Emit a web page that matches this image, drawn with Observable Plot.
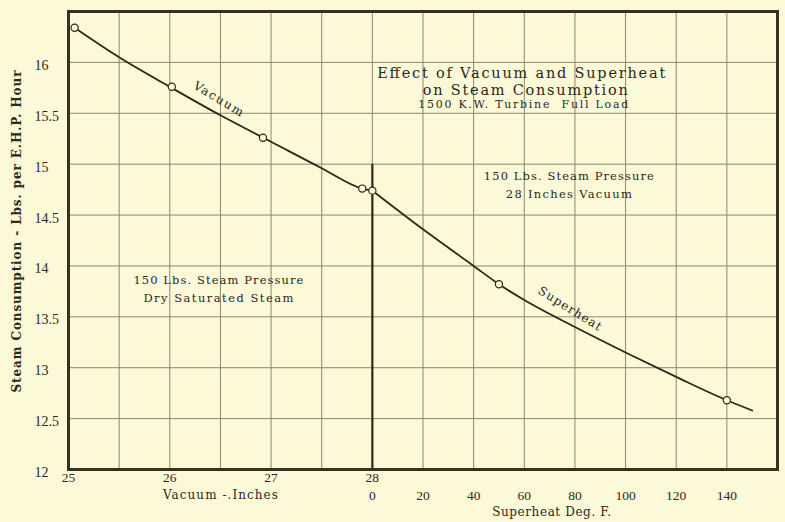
<!DOCTYPE html>
<html>
<head>
<meta charset="utf-8">
<script src="https://cdn.jsdelivr.net/npm/d3@7"></script>
<script src="https://cdn.jsdelivr.net/npm/@observablehq/plot@0.6"></script>
<style>
  html, body { margin: 0; padding: 0; background: #fbf9d8; }
  #chart svg { display: block; }
</style>
</head>
<body>
<div id="chart"></div>
<script>
// ---- Data ----
// Vacuum curve (inches of vacuum) vs steam consumption (lbs per E.H.P. hour)
const vacuumCurveX = [25.06, 25.5, 26.0, 26.5, 27.0, 27.5, 27.9, 28.0];
const vacuumCurveY = [16.34, 16.05, 15.76, 15.48, 15.22, 14.96, 14.76, 14.74];
const vacuumPointsX = [25.06, 26.02, 26.92, 27.9];
const vacuumPointsY = [16.34, 15.76, 15.26, 14.76];

// Superheat curve (deg F) vs steam consumption
const superheatCurveDeg = [0, 20, 40, 50, 60, 80, 100, 120, 140, 150];
const superheatCurveY = [14.74, 14.36, 14.00, 13.82, 13.665, 13.40, 13.15, 12.91, 12.68, 12.58];
const superheatPointsDeg = [0, 50, 140];
const superheatPointsY = [14.74, 13.82, 12.68];

// Tick labels
const vacuumTicks = [25, 26, 27, 28];
const superheatTicks = [0, 20, 40, 60, 80, 100, 120, 140];
const yTicks = [12, 12.5, 13, 13.5, 14, 14.5, 15, 15.5, 16];

// Shared horizontal scale: 0.5 inch of vacuum == 20 deg F of superheat, 28 in == 0 deg
const toU = d => 28 + d / 40;
const fromU = u => Math.round((u - 28) * 40);
const vGrid = d3.range(25.5, 32, 0.5).filter(u => u !== 28);

const vacuumCurve = vacuumCurveX.map((x, i) => ({x, y: vacuumCurveY[i]}));
const vacuumPoints = vacuumPointsX.map((x, i) => ({x, y: vacuumPointsY[i]}));
const superCurve = superheatCurveDeg.map((d, i) => ({x: toU(d), y: superheatCurveY[i]}));
const superPoints = superheatPointsDeg.map((d, i) => ({x: toU(d), y: superheatPointsY[i]}));

const ink = "#2e271b";
const gridColor = "#8c8670";
const bg = "#fbf9d8";
const serif = "DejaVu Serif";

// text widths to match the wide letter-spaced lettering of the original
const textWidths = {
  "Effect of Vacuum and Superheat": 288,
  "on Steam Consumption": 205,
  "1500 K.W. Turbine  Full Load": 210,
  "150 Lbs. Steam Pressure": 170,
  "28 Inches Vacuum": 126,
  "Dry Saturated Steam": 150,
  "Vacuum -.Inches": 115,
  "Superheat Deg. F.": 119,
  "Vacuum": 56,
  "Superheat": 72,
  "Steam Consumption - Lbs. per E.H.P. Hour": 322
};

const chart = Plot.plot({
  width: 785,
  height: 522,
  marginLeft: 68,
  marginRight: 8,
  marginTop: 11,
  marginBottom: 53,
  style: {background: bg, fontFamily: serif, color: ink},
  x: {domain: [25, 32], axis: null},
  y: {domain: [12, 16.5], axis: null},
  marks: [
    Plot.ruleY(yTicks.filter(v => v > 12), {stroke: gridColor, strokeWidth: 1}),
    Plot.ruleX(vGrid, {stroke: gridColor, strokeWidth: 1}),
    Plot.ruleX([28], {y1: 15, y2: 16.5, stroke: gridColor, strokeWidth: 1}),
    Plot.ruleX([28], {y1: 12, y2: 15, stroke: ink, strokeWidth: 2.2}),
    Plot.frame({stroke: "#3a3020", strokeWidth: 3}),
    Plot.line(vacuumCurve, {x: "x", y: "y", curve: "monotone-x", stroke: ink, strokeWidth: 1.8}),
    Plot.line(superCurve, {x: "x", y: "y", curve: "monotone-x", stroke: ink, strokeWidth: 1.8}),
    Plot.dot(vacuumPoints, {x: "x", y: "y", r: 3.6, stroke: ink, strokeWidth: 1.2, fill: bg}),
    Plot.dot(superPoints, {x: "x", y: "y", r: 3.6, stroke: ink, strokeWidth: 1.2, fill: bg}),
    // Axes
    Plot.axisY(yTicks, {tickSize: 0, tickPadding: 0, textAnchor: "start", dx: -34, dy: 3, fontSize: 14, fontFamily: "Liberation Serif", tickFormat: d => String(d), label: null}),
    Plot.axisX(vacuumTicks, {tickSize: 0, tickPadding: 0, dy: 3, fontSize: 13.5, fontFamily: "Liberation Serif", tickFormat: d => String(d), label: null}),
    Plot.axisX(superheatTicks.map(toU), {tickSize: 0, tickPadding: 0, dy: 21, fontSize: 13.5, fontFamily: "Liberation Serif", tickFormat: u => String(fromU(u)), label: null}),
    // Axis titles
    Plot.text(["Steam Consumption - Lbs. per E.H.P. Hour"], {frameAnchor: "left", textAnchor: "middle", dx: -51, dy: -9, rotate: -90, fontSize: 12, fontWeight: "bold", fill: ink}),
    Plot.text(["Vacuum -.Inches"], {x: [26.50], frameAnchor: "bottom", dy: 29, fontSize: 12, fill: ink}),
    Plot.text(["Superheat Deg. F."], {x: [29.77], frameAnchor: "bottom", dy: 46.5, fontSize: 12, fill: ink}),
    // Title block
    Plot.text(["Effect of Vacuum and Superheat"], {x: [29.47], y: [15.89], fontSize: 14.5, fill: ink}),
    Plot.text(["on Steam Consumption"], {x: [29.51], y: [15.73], fontSize: 14.5, fill: ink}),
    Plot.text(["1500 K.W. Turbine  Full Load"], {x: [29.49], y: [15.585], fontSize: 11, fill: ink}),
    // Annotations
    Plot.text(["150 Lbs. Steam Pressure"], {x: [29.94], y: [14.88], fontSize: 11.5, fill: ink}),
    Plot.text(["28 Inches Vacuum"], {x: [29.94], y: [14.70], fontSize: 11.5, fill: ink}),
    Plot.text(["150 Lbs. Steam Pressure"], {x: [26.48], y: [13.86], fontSize: 11.5, fill: ink}),
    Plot.text(["Dry Saturated Steam"], {x: [26.48], y: [13.68], fontSize: 11.5, fill: ink}),
    Plot.text(["Vacuum"], {x: [26.48], y: [15.64], rotate: 31, fontSize: 12, fill: ink}),
    Plot.text(["Superheat"], {x: [29.95], y: [13.58], rotate: 32, fontSize: 12, fill: ink})
  ]
});

d3.select(chart).selectAll("text").each(function () {
  const w = textWidths[this.textContent];
  if (w) {
    this.setAttribute("textLength", w);
    this.setAttribute("lengthAdjust", "spacing");
  }
});
document.getElementById("chart").appendChild(chart);
</script>
</body>
</html>
